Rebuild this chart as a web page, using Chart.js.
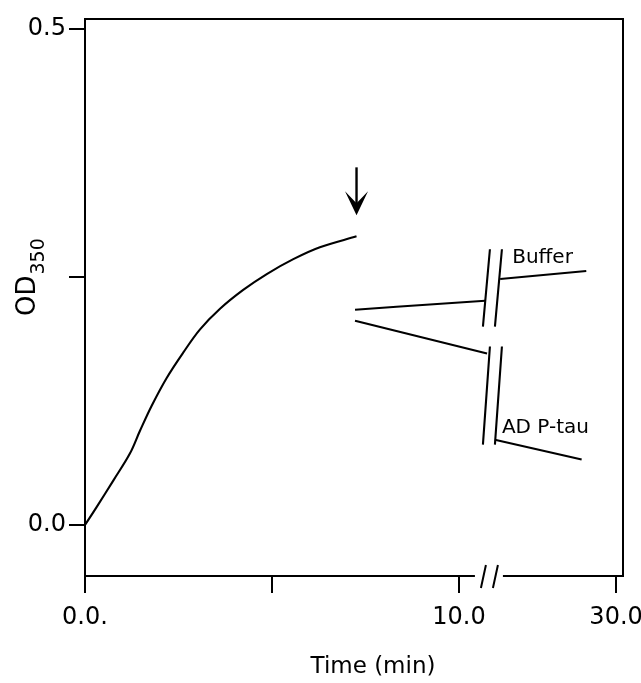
<!DOCTYPE html>
<html>
<head>
<meta charset="utf-8">
<script src="https://cdn.jsdelivr.net/npm/chart.js@4"></script>
<style>
html, body { margin: 0; padding: 0; background: #fff; }
</style>
</head>
<body>
<canvas id="od-chart" width="641" height="683"></canvas>
<script>
// polymerisation curve up to the arrow (time in min, OD350)
var curveTime = [0, 0.31, 0.76, 1.20, 1.47, 1.78, 2.18, 2.63, 3.07, 3.61, 4.23, 4.86, 5.57, 6.28, 7.26];
var curveOD = [0, 0.018, 0.045, 0.072, 0.095, 0.120, 0.148, 0.174, 0.197, 0.218, 0.237, 0.253, 0.268, 0.280, 0.291];

// traces after the addition, before and after the axis break
var bufferTime = [7.22, 8.33, 10.70];
var bufferOD = [0.217, 0.220, 0.226];
var bufferLateTime = [12.5, 25.5];
var bufferLateOD = [0.248, 0.256];
var tauTime = [7.22, 10.75];
var tauOD = [0.206, 0.173];
var tauLateTime = [11.7, 24.8];
var tauLateOD = [0.086, 0.066];

var xTicks = [0, 5, 10, 30];
var xTickText = ['0.0.', '', '10.0', '30.0'];
var yTicks = [0, 0.25, 0.5];
var yTickText = ['0.0', '', '0.5'];

// axis is broken after 10.8 min, the rest is squeezed in
var BREAK = 10.8;
var SQUEEZE = 3.4 / 19.2;
function brk(t) {
    return t <= BREAK ? t : BREAK + (t - BREAK) * SQUEEZE;
}

function pts(xs, ys) {
    return xs.map((x, i) => ({ x: brk(x), y: ys[i] }));
}

var FONT = '"DejaVu Sans", sans-serif';
var LW = 2.1;

function seg(data, extra) {
    return Object.assign({
        data: data,
        borderColor: '#000',
        borderWidth: LW,
        pointRadius: 0,
        fill: false,
        tension: 0
    }, extra || {});
}

var decor = {
    id: 'decor',
    afterDraw(chart) {
        var c = chart.ctx, a = chart.chartArea;
        var xs = chart.scales.x, ys = chart.scales.y;
        var bx = xs.getPixelForValue(BREAK);
        c.save();
        c.strokeStyle = '#000';
        c.fillStyle = '#000';
        c.lineWidth = 2;
        c.lineCap = 'butt';

        // box: top, right, bottom with a gap at the break
        c.beginPath();
        c.moveTo(a.left, a.top); c.lineTo(a.right, a.top);
        c.lineTo(a.right, a.bottom);
        c.lineTo(bx + 14, a.bottom);
        c.moveTo(bx - 14, a.bottom); c.lineTo(a.left, a.bottom);
        c.stroke();

        // "//" on the x axis
        c.beginPath();
        [-8, 4].forEach(dx => {
            c.moveTo(bx + dx, a.bottom + 12);
            c.lineTo(bx + dx + 5, a.bottom - 11);
        });
        c.stroke();

        // break marks on the traces
        var marks = [[0.200, 0.278], [0.081, 0.180]];
        c.lineWidth = LW;
        c.beginPath();
        marks.forEach(m => {
            var y0 = ys.getPixelForValue(m[0]), y1 = ys.getPixelForValue(m[1]);
            [-6, 6].forEach(dx => {
                c.moveTo(bx + dx, y0);
                c.lineTo(bx + dx + 7, y1);
            });
        });
        c.stroke();

        // arrow above the end of the curve
        var n = curveTime.length - 1;
        var ax = xs.getPixelForValue(brk(curveTime[n]));
        var tip = ys.getPixelForValue(curveOD[n]) - 21;
        c.lineWidth = 2.4;
        c.beginPath();
        c.moveTo(ax, tip - 48); c.lineTo(ax, tip - 10);
        c.stroke();
        c.beginPath();
        c.moveTo(ax, tip);
        c.lineTo(ax - 11.5, tip - 24);
        c.lineTo(ax, tip - 12);
        c.lineTo(ax + 11.5, tip - 24);
        c.closePath();
        c.fill();

        // trace labels
        c.font = '20px ' + FONT;
        c.textBaseline = 'middle';
        c.textAlign = 'left';
        var bxl = xs.getPixelForValue(brk(bufferLateTime[0]));
        var byl = ys.getPixelForValue(bufferLateOD[0]);
        c.fillText('Buffer', bxl + 12, byl - 21);
        var txl = xs.getPixelForValue(brk(tauLateTime[0]));
        var tyl = ys.getPixelForValue(tauLateOD[0]);
        c.fillText('AD P-tau', txl + 7, tyl - 12);

        // x title
        c.font = '23px ' + FONT;
        c.textAlign = 'center';
        c.fillText('Time (min)', 373, 667);

        // y title with subscript
        c.translate(35, 316);
        c.rotate(-Math.PI / 2);
        c.textAlign = 'left';
        c.textBaseline = 'alphabetic';
        c.font = '26px ' + FONT;
        c.fillText('OD', 0, 0);
        var w = c.measureText('OD').width;
        c.font = '19px ' + FONT;
        c.fillText('350', w + 1, 9);
        c.restore();
    }
};

var ctx = document.getElementById('od-chart').getContext('2d');
var odChart = new Chart(ctx, {
    type: 'line',
    data: {
        datasets: [
            seg(pts(curveTime, curveOD), { tension: 0.35 }),
            seg(pts(bufferTime, bufferOD)),
            seg(pts(bufferLateTime, bufferLateOD)),
            seg(pts(tauTime, tauOD)),
            seg(pts(tauLateTime, tauLateOD))
        ]
    },
    options: {
        responsive: false,
        animation: false,
        layout: { autoPadding: false, padding: { top: 19, right: 18, left: 0, bottom: 0 } },
        plugins: {
            legend: { display: false },
            tooltip: { enabled: false }
        },
        scales: {
            x: {
                type: 'linear',
                min: 0,
                max: brk(30) + 0.185,
                afterFit: s => { s.height = 107; s.paddingLeft = 0; s.paddingRight = 0; },
                afterBuildTicks: s => { s.ticks = xTicks.map(t => ({ value: brk(t) })); },
                ticks: {
                    callback: (v, i) => xTickText[i],
                    font: { family: FONT, size: 24 },
                    color: '#000',
                    padding: 10,
                    maxRotation: 0,
                    autoSkip: false
                },
                grid: { drawOnChartArea: false, drawTicks: true, tickLength: 17, color: '#000', lineWidth: 2 },
                border: { display: false }
            },
            y: {
                min: -0.0514,
                max: 0.5101,
                afterFit: s => { s.width = 85; s.paddingTop = 0; s.paddingBottom = 0; },
                afterBuildTicks: s => { s.ticks = yTicks.map(v => ({ value: v })); },
                ticks: {
                    callback: (v, i) => yTickText[i],
                    font: { family: FONT, size: 24 },
                    color: '#000',
                    padding: 3
                },
                grid: { drawOnChartArea: false, drawTicks: true, tickLength: 16, color: '#000', lineWidth: 2 },
                border: { display: true, color: '#000', width: 2 }
            }
        }
    },
    plugins: [decor]
});
</script>
</body>
</html>
